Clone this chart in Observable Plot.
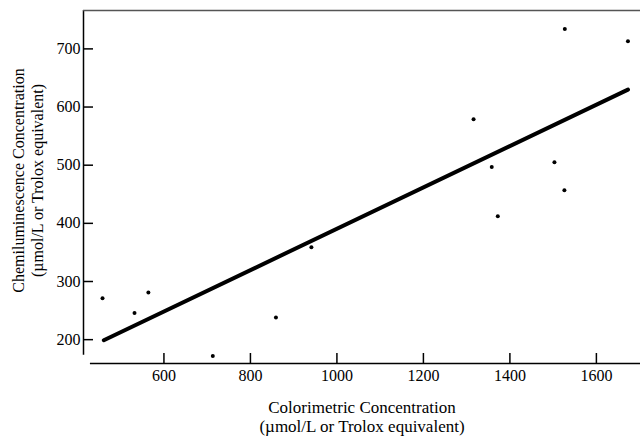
<!DOCTYPE html>
<html><head><meta charset="utf-8">
<script src="https://cdn.jsdelivr.net/npm/d3@7"></script>
<script src="https://cdn.jsdelivr.net/npm/@observablehq/plot@0.6"></script>
<style>body{margin:0;background:#fff}</style>
</head><body><div id="chart"></div>
<script>
const colorimetric = [458, 532, 564, 713, 859, 941, 1316, 1358, 1372, 1503, 1526, 1527, 1673];
const chemiluminescence = [271, 246, 281, 172, 238, 359, 579, 497, 412, 505, 457, 734, 713];
const fitX = [461, 1673];
const fitY = [199, 630];
const xTicks = [600, 800, 1000, 1200, 1400, 1600];
const yTicks = [200, 300, 400, 500, 600, 700];
const xDomain = [414, 1702];
const yDomain = [159, 766];
const xAxisStart = 430;
const yAxisStart = 173;
const xTitle = "Colorimetric Concentration\n(\u00b5mol/L or Trolox equivalent)";
const yTitle = "Chemiluminescence Concentration\n(\u00b5mol/L or Trolox equivalent)";

const points = colorimetric.map((x, i) => ({x, y: chemiluminescence[i]}));
const fit = fitX.map((x, i) => ({x, y: fitY[i]}));

const chart = Plot.plot({
  width: 640,
  height: 436,
  marginLeft: 83,
  marginRight: 0,
  marginTop: 10,
  marginBottom: 73,
  style: {fontFamily: "Liberation Serif", fontSize: "16px", color: "black", background: "white"},
  x: {domain: xDomain},
  y: {domain: yDomain},
  marks: [
    Plot.axisY({ticks: yTicks, tickFormat: d => String(d), tickSize: -10, tickPadding: 13, label: null, strokeWidth: 1.5, fontSize: 16}),
    Plot.axisX({ticks: xTicks, tickFormat: d => String(d), tickSize: -10, tickPadding: 16, label: null, strokeWidth: 1.5, fontSize: 16}),
    Plot.ruleX([xDomain[0]], {y1: yAxisStart, y2: yDomain[1], strokeWidth: 1.5}),
    Plot.ruleY([yDomain[0]], {x1: xAxisStart, x2: xDomain[1], strokeWidth: 1.5}),
    Plot.ruleY([yDomain[1]], {x1: xDomain[0], x2: xDomain[1], stroke: "#555", strokeWidth: 1.5}),
    Plot.line(fit, {x: "x", y: "y", strokeWidth: 4, stroke: "black"}),
    Plot.dot(points, {x: "x", y: "y", r: 2, fill: "black"}),
    Plot.text([xTitle], {text: d => d, frameAnchor: "bottom", textAnchor: "middle", lineAnchor: "middle", dy: 53, lineHeight: 1.08, fontSize: 17}),
    Plot.text([yTitle], {text: d => d, frameAnchor: "left", textAnchor: "middle", lineAnchor: "middle", rotate: -90, dx: -56, dy: -6.5, lineHeight: 1.15, fontSize: 16})
  ]
});
document.getElementById("chart").appendChild(chart);
</script>
</body></html>
